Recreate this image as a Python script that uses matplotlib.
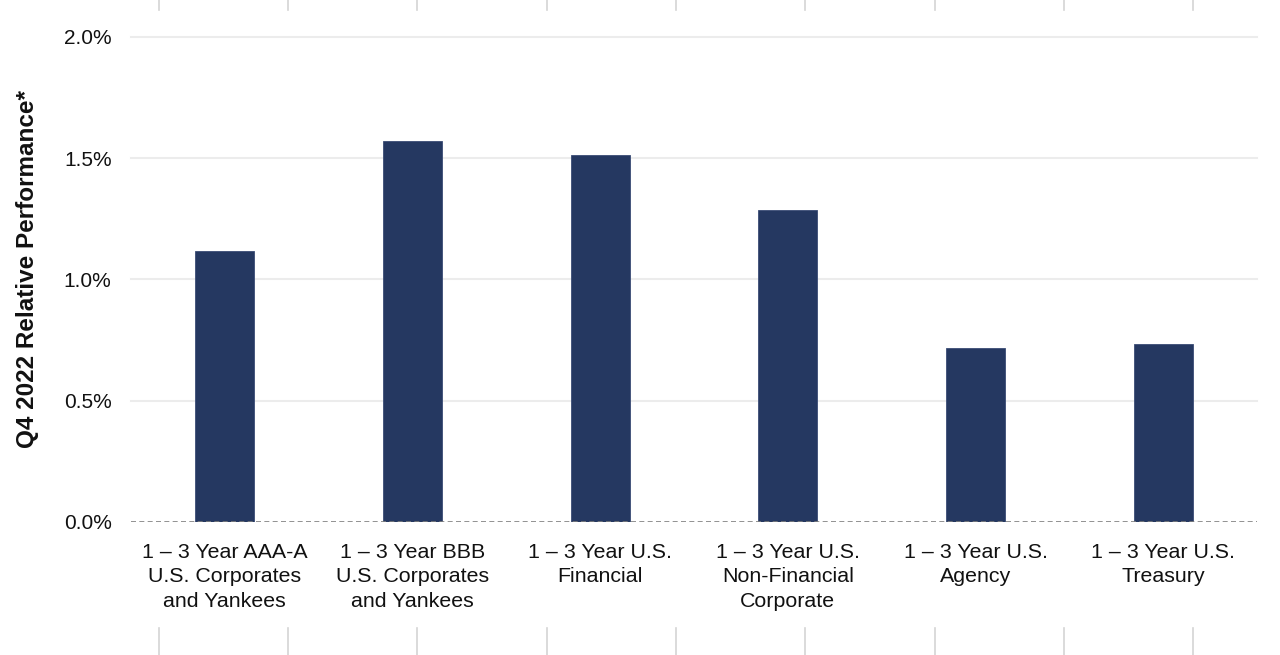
import matplotlib
matplotlib.use("Agg")
import matplotlib.pyplot as plt
from matplotlib.lines import Line2D
from matplotlib.ticker import FuncFormatter

categories = [
    "1 – 3 Year AAA-A\nU.S. Corporates\nand Yankees",
    "1 – 3 Year BBB\nU.S. Corporates\nand Yankees",
    "1 – 3 Year U.S.\nFinancial",
    "1 – 3 Year U.S.\nNon-Financial\nCorporate",
    "1 – 3 Year U.S.\nAgency",
    "1 – 3 Year U.S.\nTreasury",
]
values = [1.117, 1.571, 1.513, 1.287, 0.718, 0.734]
yticks = [0.0, 0.5, 1.0, 1.5, 2.0]
ylabel = "Q4 2022 Relative Performance*"

plt.rcParams['font.family'] = ['Liberation Sans', 'DejaVu Sans']

W, H = 1280, 655
fig = plt.figure(figsize=(W / 100, H / 100), dpi=100)
left, right = 131, 1257
top, bottom = 37, 521.7
ax = fig.add_axes([left / W, 1 - bottom / H, (right - left) / W, (bottom - top) / H])

x = list(range(len(categories)))
ax.bar(x, values, width=0.314, color="#253861", edgecolor="#3a4c75", linewidth=0.6, zorder=3)

ax.set_xlim(-0.5, len(categories) - 0.5)
ax.set_ylim(0, 2.0)
ax.set_yticks(yticks)
ax.yaxis.set_major_formatter(FuncFormatter(lambda v, p: f"{v:.1f}%"))
for yv in yticks[1:]:
    ax.axhline(yv, color="#ececec", linewidth=1.5, zorder=1, clip_on=False)
ax.axhline(0, color="#7f7f7f", linewidth=1.2, linestyle=(0, (3, 2)), zorder=4)

ax.set_xticks(x)
ax.set_xticklabels(categories, fontsize=15.4, linespacing=1.38, color="#111111")
ax.tick_params(axis="x", length=0, pad=15)
ax.tick_params(axis="y", length=0, pad=14, labelsize=15, labelcolor="#111111")
for s in ax.spines.values():
    s.set_visible(False)

fig.text(28 / W, 1 - 269 / H, ylabel, rotation=90, ha="center", va="center",
         fontsize=17.5, fontweight="bold", color="#111111")

# decorative table-border ticks at top and bottom
for px in [159, 288, 417, 546.5, 676, 805, 934.5, 1063.5, 1193]:
    fig.add_artist(Line2D([px / W, px / W], [1, 1 - 10 / H], color="#d4d4d4", linewidth=1.2))
    fig.add_artist(Line2D([px / W, px / W], [1 - 628 / H, 0], color="#d4d4d4", linewidth=1.2))

fig.savefig("out.png", dpi=100, facecolor="white")
